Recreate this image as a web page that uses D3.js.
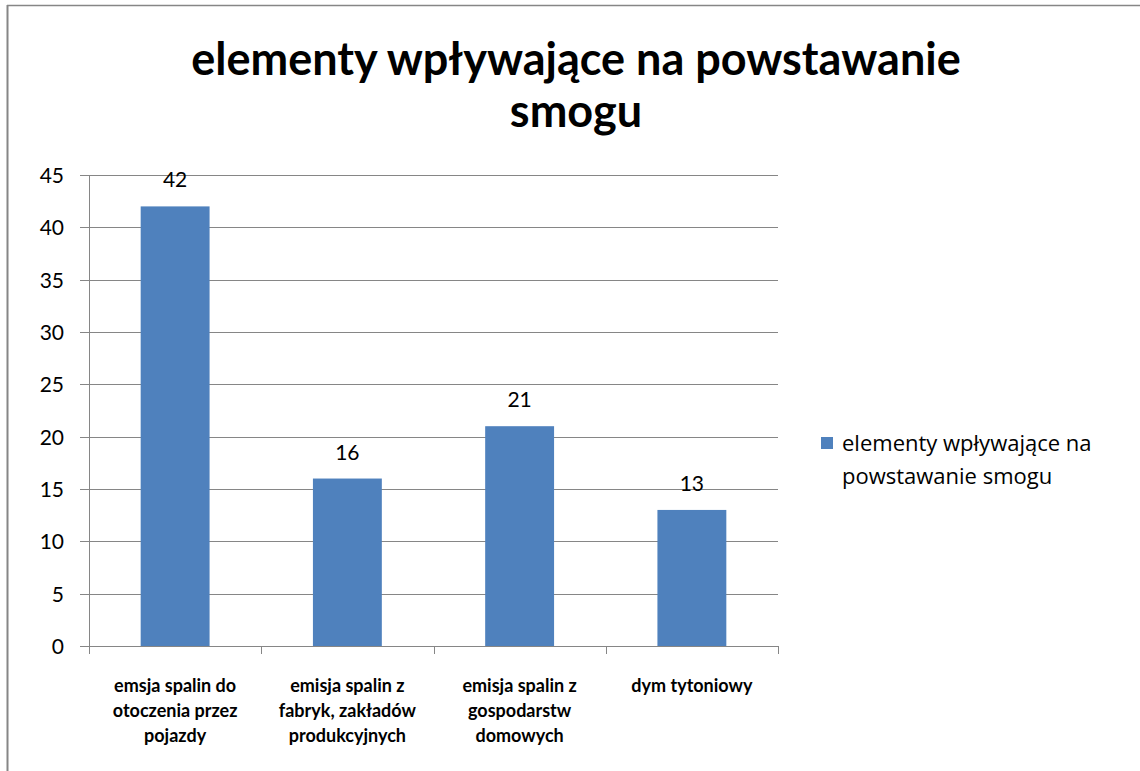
<!DOCTYPE html>
<html>
<head>
<meta charset="utf-8">
<script src="https://cdn.jsdelivr.net/npm/d3@7"></script>
<style>
  body { margin: 0; background: #fff; }
  text { font-family: Lato, "Open Sans", sans-serif; }
</style>
</head>
<body>
<svg id="chart" width="1140" height="771"></svg>
<script>
const categories = [
  ['emsja spalin do', 'otoczenia przez', 'pojazdy'],
  ['emisja spalin z', 'fabryk, zakładów', 'produkcyjnych'],
  ['emisja spalin z', 'gospodarstw', 'domowych'],
  ['dym tytoniowy']
]
const values = [42, 16, 21, 13]
const yTicks = [0, 5, 10, 15, 20, 25, 30, 35, 40, 45]
const titleLines = ['elementy wpływające na powstawanie', 'smogu']
const legendLines = ['elementy wpływające na', 'powstawanie smogu']

const width = 1140, height = 771
const margin = { top: 175, right: 362, bottom: 125, left: 89 }
const w = width - margin.left - margin.right
const h = height - margin.top - margin.bottom

const svg = d3.select('#chart')

// frame (only top and left edges visible)
svg.append('line').attr('x1', 7).attr('x2', width).attr('y1', 5.5).attr('y2', 5.5)
  .attr('stroke', '#868686').attr('stroke-width', 1.5)
svg.append('line').attr('x1', 7.5).attr('x2', 7.5).attr('y1', 5).attr('y2', height)
  .attr('stroke', '#868686').attr('stroke-width', 2)

const g = svg.append('g').attr('transform', `translate(${margin.left},${margin.top})`)

const x = d3.scaleBand().domain(d3.range(categories.length)).range([0, w]).paddingInner(0.6).paddingOuter(0.3)
const y = d3.scaleLinear().domain([0, 45]).range([h, 0])

// gridlines
g.append('g').selectAll('line').data(yTicks).join('line')
  .attr('x1', -9).attr('x2', w)
  .attr('y1', d => Math.round(y(d)) + 0.5).attr('y2', d => Math.round(y(d)) + 0.5)
  .attr('stroke', '#868686').attr('stroke-width', 1)

// y axis
const yAxis = d3.axisLeft(y).tickValues(yTicks).tickSize(0).tickPadding(25)
const ya = g.append('g').call(yAxis)
ya.select('.domain').attr('stroke', '#868686').attr('d', `M0.5,0V${h}`)
ya.selectAll('text').attr('font-size', 21).attr('fill', '#000').attr('dy', '0.35em')

// x axis category ticks
const step = w / categories.length
g.append('g').selectAll('line').data(d3.range(categories.length + 1)).join('line')
  .attr('x1', d => Math.round(d * step) + 0.5).attr('x2', d => Math.round(d * step) + 0.5)
  .attr('y1', h).attr('y2', h + 8)
  .attr('stroke', '#868686')

// bars
g.selectAll('rect.bar').data(values).join('rect')
  .attr('class', 'bar')
  .attr('x', (d, i) => x(i))
  .attr('width', x.bandwidth())
  .attr('y', d => y(d))
  .attr('height', d => h - y(d))
  .attr('fill', '#4F81BD')

// data labels
g.selectAll('text.val').data(values).join('text')
  .attr('class', 'val')
  .attr('x', (d, i) => x(i) + x.bandwidth() / 2)
  .attr('y', d => y(d) - 19)
  .attr('text-anchor', 'middle')
  .attr('font-size', 21)
  .attr('fill', '#000')
  .text(d => d)

// category labels
categories.forEach((lines, i) => {
  const t = g.append('text')
    .attr('x', x(i) + x.bandwidth() / 2)
    .attr('y', h + 46)
    .attr('text-anchor', 'middle')
    .attr('font-size', 18)
    .attr('font-weight', 'bold')
    .attr('fill', '#000')
  lines.forEach((l, j) => {
    t.append('tspan').attr('x', x(i) + x.bandwidth() / 2).attr('dy', j === 0 ? 0 : 25).text(l)
  })
})

// title
const title = svg.append('text')
  .attr('x', 576).attr('y', 75)
  .attr('text-anchor', 'middle')
  .attr('font-size', 45).attr('font-weight', 'bold')
  .attr('fill', '#000')
titleLines.forEach((l, j) => {
  title.append('tspan').attr('x', 576).attr('dy', j === 0 ? 0 : 52).text(l)
})

// legend
svg.append('rect').attr('x', 821).attr('y', 437).attr('width', 12).attr('height', 12).attr('fill', '#4F81BD')
const leg = svg.append('text').attr('x', 842).attr('y', 451)
  .style('font-family', '"Open Sans", sans-serif').attr('font-size', 22).attr('fill', '#000')
legendLines.forEach((l, j) => {
  leg.append('tspan').attr('x', 842).attr('dy', j === 0 ? 0 : 33).text(l)
})
</script>
</body>
</html>
